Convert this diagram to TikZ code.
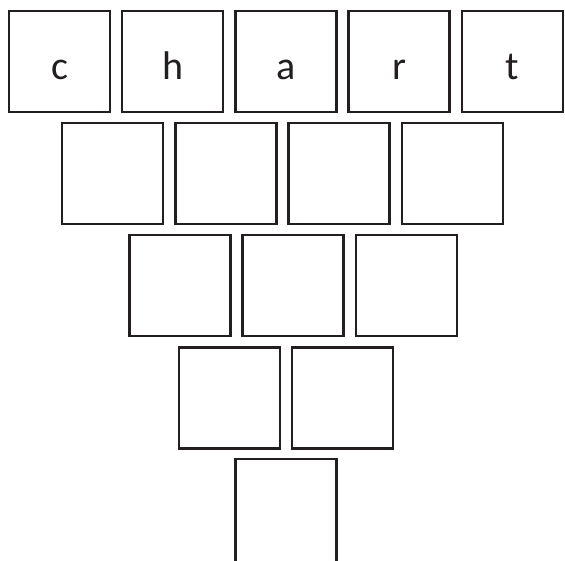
\documentclass[tikz,border=0pt]{standalone}
\usepackage{fontspec}
\setmainfont{Carlito}
\definecolor{ink}{HTML}{231F20}
\begin{document}
\begin{tikzpicture}[x=1pt,y=-1pt,
  cell/.style={draw=ink,line width=2.5pt,minimum width=101pt,minimum height=101pt,inner sep=0pt,fill=white},
  letter/.style={anchor=base,inner sep=0pt,font=\fontsize{40}{40}\selectfont,text=ink}]
\useasboundingbox (0,0) rectangle (565,560);
\begin{scope}
\clip (0,0) rectangle (565,560);
\node[cell] (r1c1) at (59.5,61.25) {};
\node[cell] (r1c2) at (172.7,61.25) {};
\node[cell] (r1c3) at (285.9,61.25) {};
\node[cell] (r1c4) at (399.1,61.25) {};
\node[cell] (r1c5) at (512.3,61.25) {};
\node[cell] (r2c1) at (112.7,173.4) {};
\node[cell] (r2c2) at (225.9,173.4) {};
\node[cell] (r2c3) at (339.1,173.4) {};
\node[cell] (r2c4) at (452.3,173.4) {};
\node[cell] (r3c1) at (179.9,285.6) {};
\node[cell] (r3c2) at (293.1,285.6) {};
\node[cell] (r3c3) at (406.3,285.6) {};
\node[cell] (r4c1) at (229.3,397.8) {};
\node[cell] (r4c2) at (342.5,397.8) {};
\node[cell,minimum height=104pt] (r5c1) at (286.0,511.2) {};
\end{scope}
\node[letter] (lc) at (59.5,79.5) {c};
\node[letter] (lh) at (172.7,79.5) {h};
\node[letter] (la) at (285.9,79.5) {a};
\node[letter] (lr) at (399.1,79.5) {r};
\node[letter] (lt) at (512.3,79.5) {t};
\end{tikzpicture}
\end{document}
